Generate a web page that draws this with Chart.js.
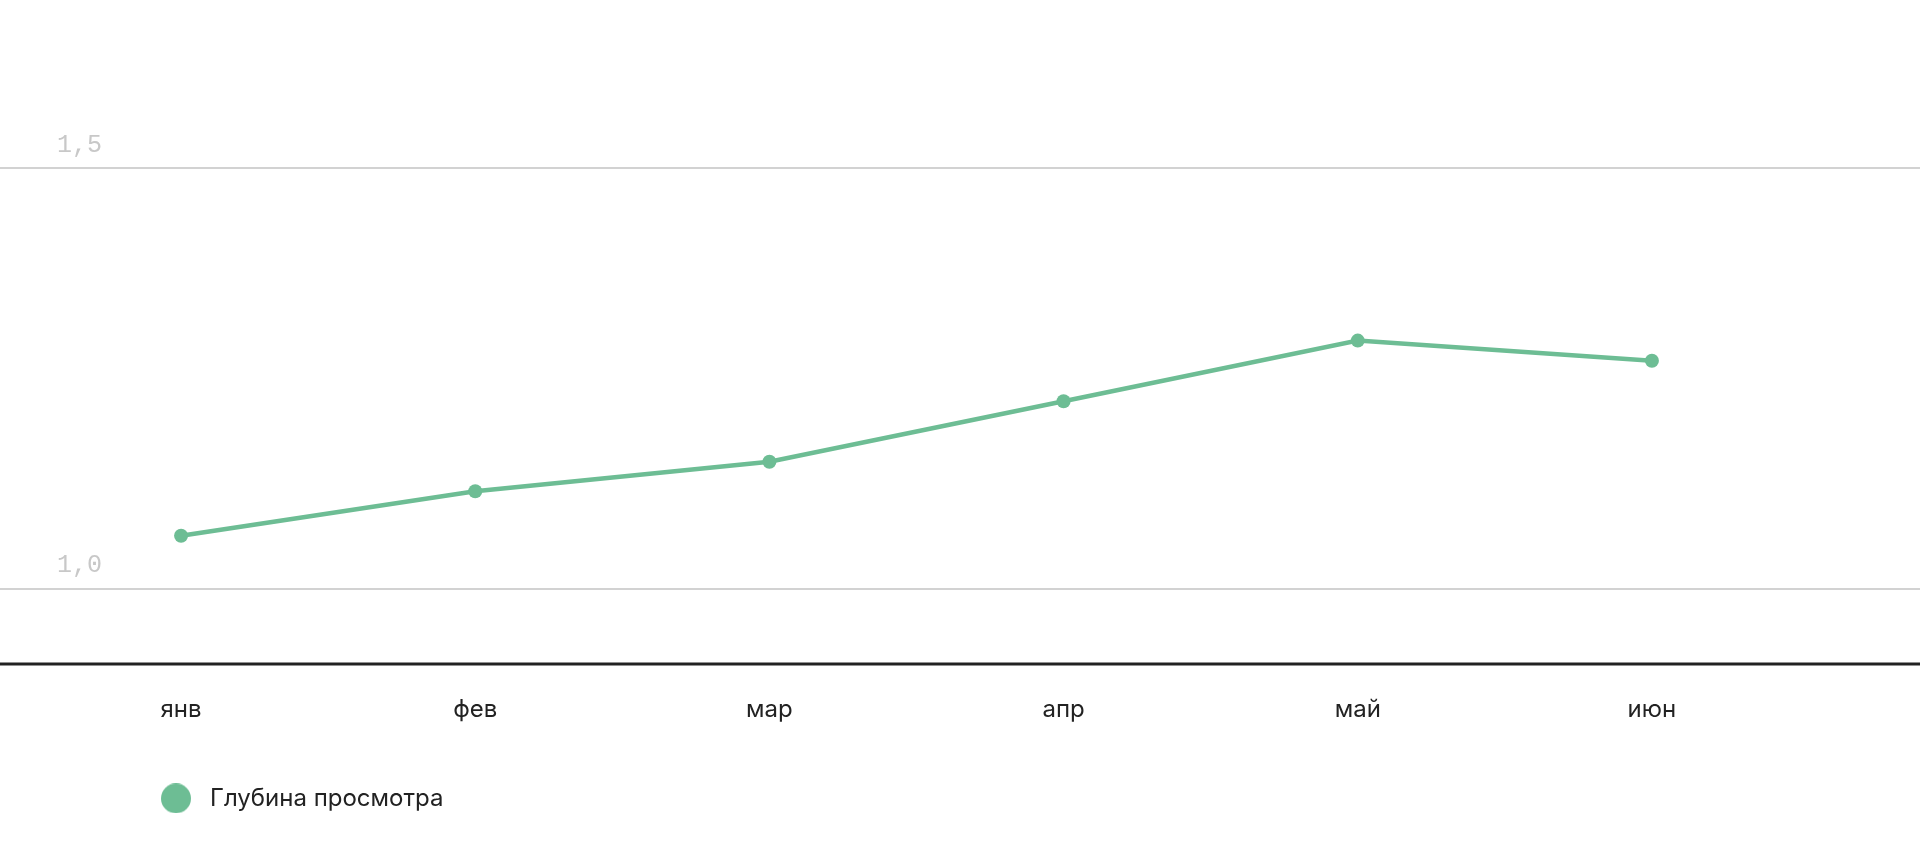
<!DOCTYPE html>
<html lang="ru">
<head>
<meta charset="utf-8">
<title>Глубина просмотра</title>
<script src="https://cdn.jsdelivr.net/npm/chart.js@4"></script>
<style>
  html, body { margin: 0; padding: 0; background: #fff; }
  #wrap { width: 1920px; height: 842px; position: relative; }
</style>
</head>
<body>
<div id="wrap"><canvas id="depthChart"></canvas></div>
<script>
// ---- data ----
const months = ['янв', 'фев', 'мар', 'апр', 'май', 'июн'];
const depthValues = [1.063, 1.116, 1.151, 1.223, 1.295, 1.271];
const yTickValues = [1.0, 1.5];
const seriesLabel = 'Глубина просмотра';

const green = '#6dbd94';

// legend marker: circle drawn on the right part of a wide canvas
function legendMarker() {
    const c = document.createElement('canvas');
    c.width = 154; c.height = 30;
    const g = c.getContext('2d');
    g.fillStyle = green;
    g.beginPath();
    g.arc(132, 15, 15, 0, Math.PI * 2);
    g.fill();
    return c;
}

// full-width grid lines + dark base line
const fullWidthLines = {
    id: 'fullWidthLines',
    beforeDatasetsDraw(chart) {
        const ctx = chart.ctx, y = chart.scales.y;
        ctx.save();
        ctx.strokeStyle = '#d2d2d2';
        ctx.lineWidth = 2;
        y.ticks.forEach(t => {
            const py = Math.round(y.getPixelForValue(t.value));
            ctx.beginPath(); ctx.moveTo(0, py); ctx.lineTo(chart.width, py); ctx.stroke();
        });
        ctx.strokeStyle = '#222';
        ctx.lineWidth = 3;
        const by = chart.chartArea.bottom;
        ctx.beginPath(); ctx.moveTo(0, by); ctx.lineTo(chart.width, by); ctx.stroke();
        ctx.restore();
    }
};

new Chart(document.getElementById('depthChart'), {
    type: 'line',
    data: {
        labels: months,
        datasets: [{
            label: seriesLabel,
            data: depthValues,
            borderColor: green,
            backgroundColor: green,
            borderWidth: 4.5,
            pointRadius: 7,
            pointBorderWidth: 0,
            tension: 0
        }]
    },
    options: {
        responsive: true,
        maintainAspectRatio: false,
        animation: false,
        layout: { padding: { left: 34, right: 121, top: 45, bottom: 21.6 } },
        plugins: {
            tooltip: { enabled: false },
            legend: {
                position: 'bottom',
                align: 'start',
                labels: {
                    usePointStyle: true,
                    pointStyle: legendMarker(),
                    pointStyleWidth: 154,
                    boxHeight: 24,
                    padding: 10,
                    color: '#222',
                    font: { family: 'Inter', size: 24 }
                }
            }
        },
        scales: {
            x: {
                offset: true,
                grid: { display: false, drawTicks: false },
                border: { display: false },
                ticks: { color: '#222', padding: 31.6, font: { family: 'Inter', size: 24 } },
                afterFit(scale) { scale.height = 112.5; }
            },
            y: {
                min: 0.9107,
                max: 1 + (588 - 45) / 840,
                grid: { display: false, drawTicks: false },
                border: { display: false },
                afterBuildTicks(scale) { scale.ticks = yTickValues.map(v => ({ value: v })); },
                afterFit(scale) { scale.width = 0; },
                ticks: {
                    mirror: true,
                    padding: 23,
                    labelOffset: -23,
                    color: '#c8c8c8',
                    font: { family: 'Liberation Mono', size: 25 },
                    callback: v => Number(v).toFixed(1).replace('.', ',')
                }
            }
        }
    },
    plugins: [fullWidthLines]
});
</script>
</body>
</html>
